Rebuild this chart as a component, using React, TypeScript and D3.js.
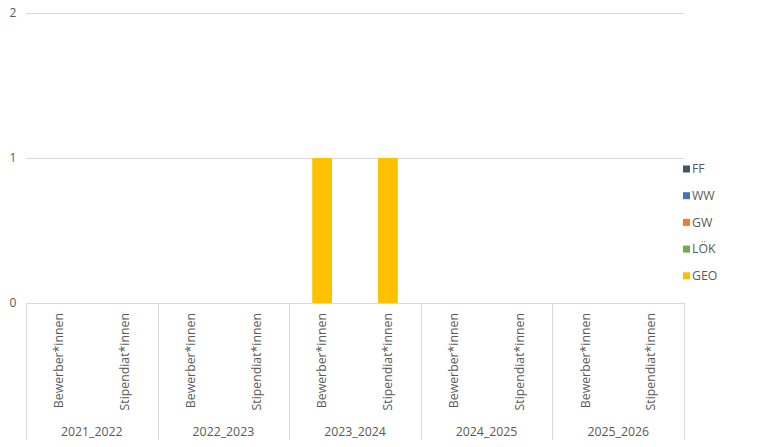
import * as React from 'react';
import {useEffect, useRef} from 'react';
import * as d3 from 'd3';

const width = 761;
const height = 447;

const years = ['2021_2022', '2022_2023', '2023_2024', '2024_2025', '2025_2026'];
const roles = ['Bewerber*innen', 'Stipendiat*innen'];
const seriesNames = ['FF', 'WW', 'GW', 'LÖK', 'GEO'];
const seriesColors = ['#44546A', '#4472C4', '#ED7D31', '#70AD47', '#FFC000'];

// one value per (year, role), in order years x roles
const ffValues = [0, 0, 0, 0, 0, 0, 0, 0, 0, 0];
const wwValues = [0, 0, 0, 0, 0, 0, 0, 0, 0, 0];
const gwValues = [0, 0, 0, 0, 0, 0, 0, 0, 0, 0];
const lokValues = [0, 0, 0, 0, 0, 0, 0, 0, 0, 0];
const geoValues = [0, 0, 0, 0, 1, 1, 0, 0, 0, 0];
const yTicks = [0, 1, 2];

const font = '"Open Sans", "Liberation Sans", sans-serif';
const textColor = '#595959';
const lineColor = '#d9d9d9';

export default function App() {
  const ref = useRef<SVGSVGElement>(null);

  useEffect(() => {
    const svg = d3.select(ref.current);
    svg.selectAll('*').remove();

    const left = 26, right = 684, top = 13, base = 303, bottom = 440;

    const rows = years.flatMap((yr, i) => roles.map((r, j) => {
      const k = i * roles.length + j;
      return {key: `${yr}|${r}`, year: yr, role: r,
        FF: ffValues[k], WW: wwValues[k], GW: gwValues[k], 'LÖK': lokValues[k], GEO: geoValues[k]};
    }));

    const x0 = d3.scaleBand().domain(years).range([left, right]);
    const x1 = d3.scaleBand().domain(roles).range([0, x0.bandwidth()]).paddingInner(0.7).paddingOuter(0.35);
    const y = d3.scaleLinear().domain([0, 2]).range([base, top]);

    // gridlines
    svg.append('g').selectAll('line').data(yTicks).join('line')
      .attr('x1', left).attr('x2', right)
      .attr('y1', d => y(d) + 0.5).attr('y2', d => y(d) + 0.5)
      .attr('stroke', lineColor).attr('stroke-width', 1);

    svg.append('g').selectAll('text').data(yTicks).join('text')
      .attr('x', 13).attr('y', d => y(d)).attr('dy', '0.35em')
      .attr('text-anchor', 'middle')
      .attr('font-family', font).attr('font-size', 12).attr('fill', textColor)
      .text(d => d);

    const stack = d3.stack<any>().keys(seriesNames);
    const layers = stack(rows);
    const color = d3.scaleOrdinal<string>().domain(seriesNames).range(seriesColors);

    svg.append('g').selectAll('g').data(layers).join('g')
      .attr('fill', d => color(d.key))
      .selectAll('rect').data(d => d).join('rect')
      .attr('x', d => x0(d.data.year)! + x1(d.data.role)!)
      .attr('width', x1.bandwidth())
      .attr('y', d => y(d[1]))
      .attr('height', d => y(d[0]) - y(d[1]));

    // category axis separators
    const bounds = [...years.map(yr => x0(yr)!), right];
    svg.append('g').selectAll('line').data(bounds).join('line')
      .attr('x1', d => Math.round(d) + 0.5).attr('x2', d => Math.round(d) + 0.5)
      .attr('y1', base).attr('y2', bottom)
      .attr('stroke', lineColor).attr('stroke-width', 1);

    svg.append('g').selectAll('text').data(rows).join('text')
      .attr('transform', d => `translate(${x0(d.year)! + x1(d.role)! + x1.bandwidth() / 2},${base + 10}) rotate(-90)`)
      .attr('dy', '0.35em')
      .attr('text-anchor', 'end')
      .attr('font-family', font).attr('font-size', 12.3).attr('fill', textColor)
      .text(d => d.role);

    svg.append('g').selectAll('text').data(years).join('text')
      .attr('x', d => x0(d)! + x0.bandwidth() / 2).attr('y', 432).attr('dy', '0.35em')
      .attr('text-anchor', 'middle')
      .attr('font-family', font).attr('font-size', 12.3).attr('fill', textColor)
      .text(d => d);

    // legend
    const legend = svg.append('g').selectAll('g').data(seriesNames).join('g')
      .attr('transform', (d, i) => `translate(683,${169 + i * 26.7})`);
    legend.append('rect').attr('x', 0).attr('y', -3.5).attr('width', 7).attr('height', 7)
      .attr('fill', d => color(d));
    legend.append('text').attr('x', 9).attr('dy', '0.35em')
      .attr('font-family', font).attr('font-size', 12.3).attr('fill', textColor)
      .text(d => d);
  }, []);

  return (
    <div style={{position: 'absolute', left: 0, top: 0}}>
      <svg ref={ref} width={width} height={height} style={{display: 'block', background: '#fff'}}/>
    </div>
  );
}
